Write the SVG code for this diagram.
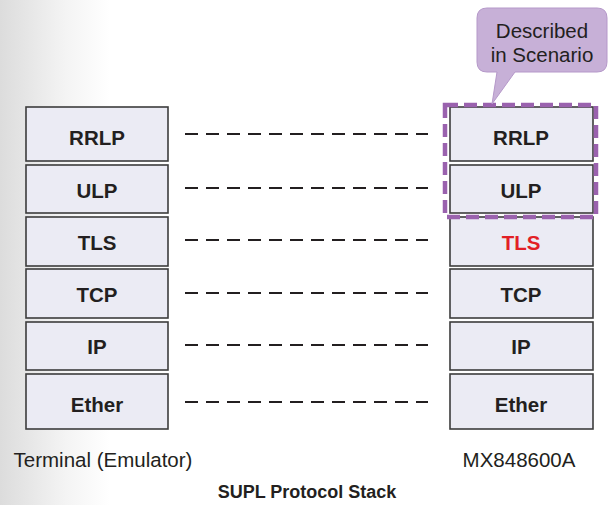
<svg xmlns="http://www.w3.org/2000/svg" width="609" height="505" viewBox="0 0 609 505">
<defs>
<linearGradient id="bg" x1="0" y1="0" x2="1" y2="0">
<stop offset="0" stop-color="#dcdcdc"/>
<stop offset="0.6" stop-color="#f4f4f4"/>
<stop offset="1" stop-color="#ffffff"/>
</linearGradient>
<style>
.layer{fill:#ebebf4;stroke:#3c3c3c;stroke-width:1.6}
.lbl{font-family:"Liberation Sans",Arial,sans-serif;font-weight:bold;font-size:20.5px;fill:#231f20;text-anchor:middle}
.txt{font-family:"Liberation Sans",Arial,sans-serif;font-size:20.5px;fill:#231f20;text-anchor:middle}
.dash{stroke:#231f20;stroke-width:2;stroke-dasharray:13 8;fill:none}
</style>
</defs>
<rect width="609" height="505" fill="#ffffff"/>
<rect x="0" y="0" width="110" height="505" fill="url(#bg)"/>

<g id="terminal">
<rect class="layer" x="26" y="107" width="142" height="54"/>
<rect class="layer" x="26" y="165" width="142" height="48"/>
<rect class="layer" x="26" y="217" width="142" height="49"/>
<rect class="layer" x="26" y="269" width="142" height="49"/>
<rect class="layer" x="26" y="322" width="142" height="48"/>
<rect class="layer" x="26" y="374" width="142" height="55"/>
<text class="lbl" x="97" y="145">RRLP</text>
<text class="lbl" x="97" y="198">ULP</text>
<text class="lbl" x="97" y="250">TLS</text>
<text class="lbl" x="97" y="302">TCP</text>
<text class="lbl" x="97" y="354">IP</text>
<text class="lbl" x="97" y="412">Ether</text>
<text class="txt" x="103" y="467">Terminal (Emulator)</text>
</g>

<g id="mx848600a">
<rect class="layer" x="450" y="107" width="143" height="54"/>
<rect class="layer" x="450" y="165" width="143" height="48"/>
<rect class="layer" x="450" y="217" width="143" height="49"/>
<rect class="layer" x="450" y="269" width="143" height="49"/>
<rect class="layer" x="450" y="322" width="143" height="48"/>
<rect class="layer" x="450" y="374" width="143" height="55"/>
<text class="lbl" x="521" y="145">RRLP</text>
<text class="lbl" x="521" y="198">ULP</text>
<text class="lbl" x="521" y="250" style="fill:#e21f26">TLS</text>
<text class="lbl" x="521" y="302">TCP</text>
<text class="lbl" x="521" y="354">IP</text>
<text class="lbl" x="521" y="412">Ether</text>
<text class="txt" x="519" y="467">MX848600A</text>
</g>

<g id="connectors">
<line class="dash" x1="185" y1="134" x2="428" y2="134"/>
<line class="dash" x1="185" y1="188" x2="428" y2="188"/>
<line class="dash" x1="185" y1="240" x2="428" y2="240"/>
<line class="dash" x1="185" y1="293" x2="428" y2="293"/>
<line class="dash" x1="185" y1="345" x2="428" y2="345"/>
<line class="dash" x1="185" y1="402" x2="428" y2="402"/>
</g>

<g id="scenario-box">
<rect x="445" y="105" width="151" height="112" fill="none" stroke="#9a62ae" stroke-width="4.5" stroke-dasharray="13 6"/>
</g>

<g id="callout">
<path d="M487,8 H597 Q607,8 607,18 V62 Q607,72 597,72 H515 L492,104 L497,72 H487 Q477,72 477,62 V18 Q477,8 487,8 Z" fill="#c7b0d7" stroke="#b598c9" stroke-width="1"/>
<text class="txt" x="542" y="38">Described</text>
<text class="txt" x="542" y="62">in Scenario</text>
</g>

<g id="title">
<text x="307" y="498" style="font-family:'Liberation Sans',Arial,sans-serif;font-weight:bold;font-size:18px;fill:#231f20;text-anchor:middle">SUPL Protocol Stack</text>
</g>
</svg>
